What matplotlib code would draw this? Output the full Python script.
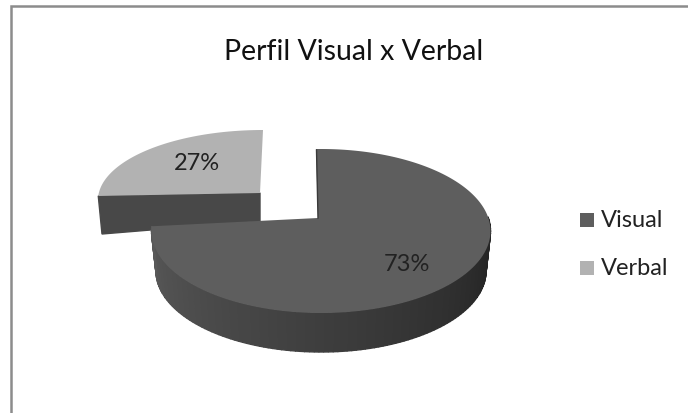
import numpy as np
import matplotlib
matplotlib.use("Agg")
import matplotlib.pyplot as plt
from matplotlib.patches import Polygon, Rectangle

title = "Perfil Visual x Verbal"
categories = ["Visual", "Verbal"]
shares = [73, 27]
top_colors = ["#5e5e5e", "#b2b2b2"]
side_color = "#484848"

plt.rcParams["font.family"] = ["Lato", "DejaVu Sans"]

fig = plt.figure(figsize=(6.88, 4.14), dpi=100)
ax = fig.add_axes([0, 0, 1, 1])
ax.set_xlim(0, 688)
ax.set_ylim(414, 0)
ax.axis("off")

# outer frame, only top and left are in the crop
ax.plot([11, 11, 688], [414, 7, 7], color="#8c8c8c", lw=1.8, solid_joinstyle="miter")


def ell(cx, cy, rx, ry, a):
    a = np.radians(a)
    return np.c_[cx + rx * np.sin(a), cy - ry * np.cos(a)]


# perspective pushes the slice border a bit past the true angle
warp = 1.04
end = shares[0] / sum(shares) * 360 * warp

# big slice
apex = (318, 219)
cx, cy, rx, ry = 321, 232, 169.5, 82
cxb, cyb, rxb, ryb = 321, 272, 165, 81
a_big = np.linspace(0, end, 300)
rim = ell(cx, cy, rx, ry, a_big)
front = np.linspace(80, end, 120)
rim_t = ell(cx, cy, rx, ry, front)
rim_b = ell(cxb, cyb, rxb, ryb, front)
n = len(front)
for i in range(n - 1):
    # dark on the right, lighter to the left
    t = i / (n - 2)
    shade = plt.cm.gray(0.13 + 0.22 * t)
    quad = [rim_t[i], rim_t[i + 1], rim_b[i + 1], rim_b[i]]
    ax.add_patch(Polygon(quad, fc=shade, ec=shade, lw=1.0))
ax.add_patch(Polygon(np.vstack([apex, (316, 150), rim]), fc=top_colors[0], ec="none"))
ax.plot([316.5, 318], [151, 219], color="#3a3a3a", lw=1)

# exploded slice
apex2 = (260, 194)
cx2, cy2, rx2, ry2 = 263, 201, 165, 70
a_small = np.linspace(end, 360, 80)
rim2 = ell(cx2, cy2, rx2, ry2, a_small)
ax.add_patch(Polygon([apex2, rim2[0], (102, 235), (260, 222)], fc=side_color, ec=side_color, zorder=0))
ax.add_patch(Polygon(np.vstack([apex2, rim2]), fc=top_colors[1], ec="none", zorder=0.5))

# labels
ax.text(407, 265, f"{shares[0]}%", ha="center", va="center", fontsize=17, color="#222222")
ax.text(197, 164, f"{shares[1]}%", ha="center", va="center", fontsize=17, color="#222222")
ax.text(354, 52, title, ha="center", va="center", fontsize=20.5, color="#111111")

# legend
for y, name, col in zip([221, 269], categories, top_colors):
    ax.add_patch(Rectangle((580, y - 7), 14, 14, fc=col, ec="none"))
    ax.text(601, y, name, ha="left", va="center", fontsize=17, color="#222222")

fig.savefig("out.png", dpi=100)
